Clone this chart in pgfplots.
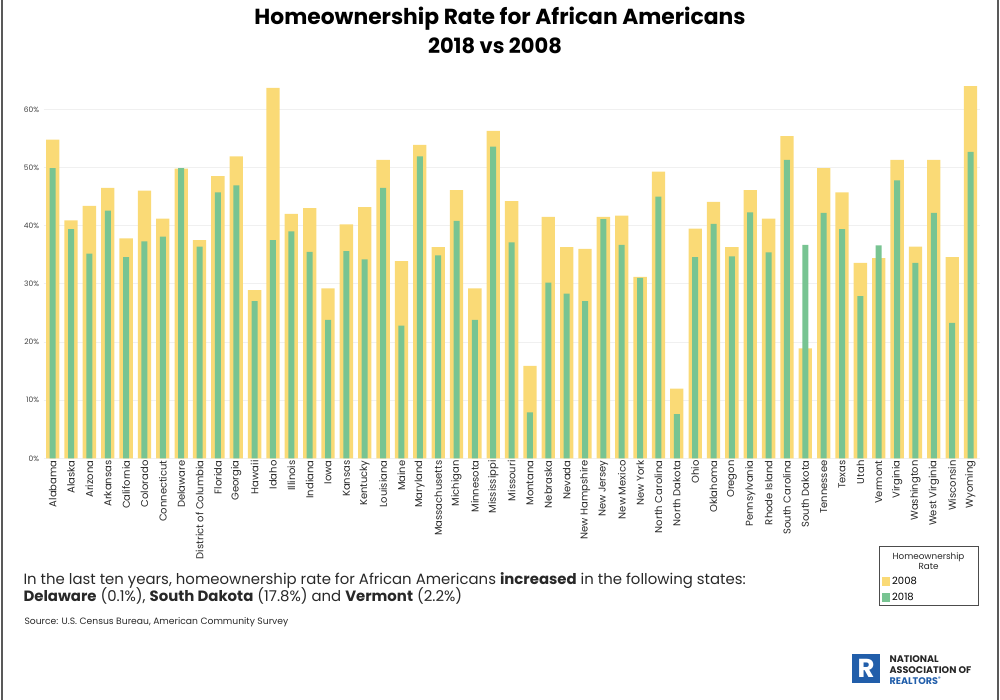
\documentclass[border=0pt]{standalone}
\usepackage{fontspec}
\setmainfont{Poppins}
\usepackage{pgfplots}
\usepackage{pgfplotstable}
\pgfplotsset{compat=1.18}

\definecolor{yel}{RGB}{250,218,118}
\definecolor{grn}{RGB}{120,196,146}
\definecolor{narblue}{RGB}{33,94,170}
\definecolor{txt}{RGB}{40,40,40}

% homeownership rate, % (2008, 2018)
\pgfplotstableread{
idx r2008 r2018
0  54.8 49.9
1  40.9 39.4
2  43.4 35.2
3  46.5 42.6
4  37.8 34.6
5  46.0 37.3
6  41.2 38.1
7  49.8 49.9
8  37.5 36.4
9  48.5 45.7
10 51.9 46.9
11 28.9 27.0
12 63.7 37.5
13 42.0 39.0
14 43.0 35.5
15 29.2 23.8
16 40.2 35.6
17 43.2 34.2
18 51.3 46.5
19 33.9 22.8
20 53.9 51.9
21 36.3 34.9
22 46.1 40.8
23 29.2 23.8
24 56.3 53.6
25 44.2 37.1
26 15.9 7.9
27 41.5 30.2
28 36.3 28.3
29 36.0 27.0
30 41.5 41.1
31 41.7 36.7
32 31.2 31.0
33 49.3 45.0
34 12.0 7.6
35 39.5 34.6
36 44.1 40.3
37 36.3 34.7
38 46.1 42.3
39 41.2 35.4
40 55.4 51.3
41 18.9 36.7
42 49.9 42.2
43 45.7 39.4
44 33.6 27.9
45 34.4 36.6
46 51.3 47.8
47 36.4 33.6
48 51.3 42.2
49 34.6 23.3
50 64.0 52.7
}\rates

\begin{document}
\begin{tikzpicture}
\useasboundingbox (0,0) rectangle (1000pt,-700pt);
\draw[line width=2pt, black!65] (1.5pt,0) -- (1.5pt,-700pt);
\draw[line width=2pt, black!65] (997.5pt,0) -- (997.5pt,-700pt);

\node[font=\fontsize{21.8}{26}\selectfont\bfseries] at (500pt,-19pt) {Homeownership Rate for African Americans};
\node[font=\fontsize{21}{26}\selectfont\bfseries] at (495pt,-46pt) {2018 vs 2008};

\begin{axis}[
  at={(43.5pt,-458.3pt)}, anchor=south west,
  scale only axis, width=936.2pt, height=378.1pt,
  ybar,
  xmin=-0.5, xmax=50.5, ymin=0, ymax=65,
  axis line style={draw=none},
  major tick length=0pt,
  ytick={0,10,...,60},
  yticklabel={\pgfmathprintnumber{\tick}\%},
  /pgf/number format/assume math mode=true,
  yticklabel style={font=\fontsize{7.5}{9}\selectfont, text=black!75, xshift=-1pt},
  ymajorgrids, grid style={black!6, line width=0.8pt},
  xtick=data,
  xticklabels={Alabama, Alaska, Arizona, Arkansas, California, Colorado, Connecticut, Delaware, District of Columbia, Florida, Georgia, Hawaii, Idaho, Illinois, Indiana, Iowa, Kansas, Kentucky, Louisiana, Maine, Maryland, Massachusetts, Michigan, Minnesota, Mississippi, Missouri, Montana, Nebraska, Nevada, New Hampshire, New Jersey, New Mexico, New York, North Carolina, North Dakota, Ohio, Oklahoma, Oregon, Pennsylvania, Rhode Island, South Carolina, South Dakota, Tennessee, Texas, Utah, Vermont, Virginia, Washington, West Virginia, Wisconsin, Wyoming},
  xticklabel style={rotate=90, anchor=east, font=\fontsize{10}{11}\selectfont, text=txt, inner sep=2pt},
  legend image code/.code={\fill[#1] (0pt,-4.5pt) rectangle (8pt,4.5pt);},
  legend style={at={(0.8946,-0.3060)}, anchor=north west, draw=none, fill=none,
    font=\fontsize{10}{11}\selectfont, row sep=3.5pt, inner sep=1pt},
  legend cell align=left,
]
\addplot[fill=yel, draw=none, bar width=13.3pt, bar shift=0pt] table[x=idx, y=r2008] {\rates};
\addlegendentry{2008}
\addplot[fill=grn, draw=none, bar width=6pt, bar shift=0pt] table[x=idx, y=r2018] {\rates};
\addlegendentry{2018}
\end{axis}

% legend frame and title
\draw[black!70, line width=0.8pt] (879pt,-546pt) rectangle (978pt,-605pt);
\node[font=\fontsize{8.8}{10.5}\selectfont, align=center, text=txt] at (928.5pt,-561pt) {Homeownership\\Rate};

% note below the chart
\node[anchor=base west, font=\fontsize{14.9}{17}\selectfont, text=txt] at (20pt,-584pt)
  {In the last ten years, homeownership rate for African Americans \textbf{increased} in the following states:};
\node[anchor=base west, font=\fontsize{14.9}{17}\selectfont, text=txt] at (20pt,-601pt)
  {\textbf{Delaware} (0.1\%), \textbf{South Dakota} (17.8\%) and \textbf{Vermont} (2.2\%)};
\node[anchor=base west, font=\fontsize{9.2}{10}\selectfont, text=txt] at (21pt,-624pt)
  {Source: U.S. Census Bureau, American Community Survey};

% logo
\fill[narblue] (852pt,-654pt) rectangle (880pt,-683pt);
\node[text=white, font=\fontsize{26}{26}\selectfont\bfseries] at (866pt,-668.5pt) {R};
\node[anchor=base west, font=\fontsize{9.6}{10}\selectfont\bfseries, text=black!85] at (886pt,-662pt) {NATIONAL};
\node[anchor=base west, font=\fontsize{9.6}{10}\selectfont\bfseries, text=black!85] at (886pt,-673pt) {ASSOCIATION OF};
\node[anchor=base west, font=\fontsize{9.6}{10}\selectfont\bfseries, text=narblue] at (886pt,-684pt) {REALTORS\textsuperscript{\tiny®}};
\end{tikzpicture}
\end{document}
